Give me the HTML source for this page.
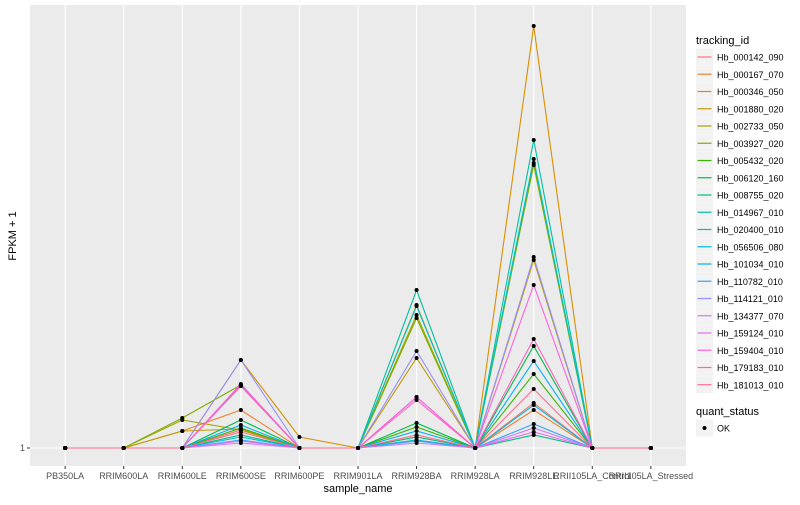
<!DOCTYPE html>
<html><head><meta charset="utf-8"><style>
body{margin:0;background:#fff;font-family:"Liberation Sans",sans-serif}
svg text{font-family:"Liberation Sans",sans-serif}
</style></head><body>
<svg id="chart" width="800" height="500" xmlns="http://www.w3.org/2000/svg"></svg>
<script>
const categories=["PB350LA","RRIM600LA","RRIM600LE","RRIM600SE","RRIM600PE","RRIM901LA","RRIM928BA","RRIM928LA","RRIM928LE","RRII105LA_Control","RRII105LA_Stressed"];
const seriesNames=["Hb_000142_090","Hb_000167_070","Hb_000346_050","Hb_001880_020","Hb_002733_050","Hb_003927_020","Hb_005432_020","Hb_006120_160","Hb_008755_020","Hb_014967_010","Hb_020400_010","Hb_056506_080","Hb_101034_010","Hb_110782_010","Hb_114121_010","Hb_134377_070","Hb_159124_010","Hb_159404_010","Hb_179183_010","Hb_181013_010"];
const s000142=[1,1,1,1.9,1,1,1.55,1,3.25,1,1];
const s000167=[1,1,1.85,2.9,1,1,1.4,1,2.9,1,1];
const s000346=[1,1,1,5.4,1.55,1,8.15,1,22.1,1,1];
const s001880=[1,1,1.85,1.95,1,1,5.5,1,10.4,1,1];
const s002733=[1,1,2.4,1.9,1,1,7.65,1,15.25,1,1];
const s003927=[1,1,2.5,4.15,1,1,7.5,1,15.15,1,1];
const s005432=[1,1,1,2.0,1,1,2.05,1,4.7,1,1];
const s006120=[1,1,1,2.4,1,1,2.25,1,6.1,1,1];
const s008755=[1,1,1,1.65,1,1,1.55,1,1.65,1,1];
const s014967=[1,1,1,4.15,1,1,8.9,1,16.4,1,1];
const s020400=[1,1,1,4.1,1,1,8.1,1,15.45,1,1];
const s056506=[1,1,1,1.55,1,1,1.4,1,3.15,1,1];
const s101034=[1,1,1,2.15,1,1,1.85,1,5.35,1,1];
const s110782=[1,1,1,1.4,1,1,1.35,1,2.2,1,1];
const s114121=[1,1,1,5.4,1,1,5.85,1,10.55,1,1];
const s134377=[1,1,1,1.25,1,1,1.25,1,2.0,1,1];
const s159124=[1,1,1,1.35,1,1,3.55,1,1.8,1,1];
const s159404=[1,1,1,4.2,1,1,3.55,1,9.15,1,1];
const s179183=[1,1,1,4.1,1,1,3.4,1,6.45,1,1];
const s181013=[1,1,1,1.8,1,1,1.65,1,3.95,1,1];
const seriesValues=[s000142,s000167,s000346,s001880,s002733,s003927,s005432,s006120,s008755,s014967,s020400,s056506,s101034,s110782,s114121,s134377,s159124,s159404,s179183,s181013];
const yTicks=[1];
const colors=["#F8766D","#EA8331","#D89000","#C09B00","#A3A500","#7CAE00","#39B600","#00BB4E","#00BF7D","#00C1A3","#00BFC4","#00BAE0","#00B0F6","#35A2FF","#9590FF","#C77CFF","#E76BF3","#FA62DB","#FF62BC","#FF6C91"];

const NS="http://www.w3.org/2000/svg";
const svg=document.getElementById('chart');
const P={l:30,t:5,r:686,b:466};
const step=(P.r-P.l)/(categories.length-1+1.2);
const xScale=i=>P.l+step*(0.6+i);
const yScale=v=>448-(v-1)*20;
function mk(tag,attrs,parent){const e=document.createElementNS(NS,tag);for(const k in attrs)e.setAttribute(k,attrs[k]);(parent||svg).appendChild(e);return e;}

const panel=mk('rect',{x:P.l,y:P.t,width:P.r-P.l,height:P.b-P.t,fill:'#EBEBEB'});


categories.forEach((c,i)=>{
  const g=mk('line',{x1:xScale(i),x2:xScale(i),y1:P.t,y2:P.b,stroke:'#fff','stroke-width':1.1});
  
  
  const tk=mk('line',{x1:xScale(i),x2:xScale(i),y1:P.b,y2:P.b+3,stroke:'#333'});
  
  
  const t=mk('text',{x:xScale(i),y:P.b+13,'font-size':9,fill:'#4D4D4D','text-anchor':'middle'});
  t.textContent=c;
  
  
});
yTicks.forEach(v=>{
  const g=mk('line',{x1:P.l,x2:P.r,y1:yScale(v),y2:yScale(v),stroke:'#fff','stroke-width':1.1});
  
  
  const tk=mk('line',{x1:P.l-3,x2:P.l,y1:yScale(v),y2:yScale(v),stroke:'#333'});
  
  
  const t=mk('text',{x:P.l-5,y:yScale(v)+3,'font-size':9,fill:'#4D4D4D','text-anchor':'end'});
  t.textContent=v;
  
  
});
seriesValues.forEach((vals,si)=>{
  const pts=vals.map((v,i)=>xScale(i)+','+yScale(v)).join(' ');
  const pl=mk('polyline',{points:pts,fill:'none',stroke:colors[si],'stroke-width':1.1});
  
  
});
seriesValues.forEach((vals,si)=>{
  vals.forEach((v,i)=>{
    const c=mk('circle',{cx:xScale(i),cy:yScale(v),r:2,fill:'#000'});
    
    
  });
});
const xt=mk('text',{x:(P.l+P.r)/2,y:492,'font-size':11,fill:'#000','text-anchor':'middle'});
xt.textContent='sample_name';


const yt=mk('text',{x:0,y:0,'font-size':11,fill:'#000','text-anchor':'middle',transform:'translate(16,236) rotate(-90)'});
yt.textContent='FPKM + 1';



const lt=mk('text',{x:696,y:44,'font-size':11,fill:'#000'});
lt.textContent='tracking_id';


seriesNames.forEach((n,i)=>{
  const y=57+i*17.25;
  const g=mk('g',{});
  
  
  mk('rect',{x:696,y:y-8.5,width:17,height:17,fill:'#F2F2F2'},g);
  mk('line',{x1:697.5,x2:711.5,y1:y,y2:y,stroke:colors[i],'stroke-width':1.2},g);
  const t=mk('text',{x:717,y:y+3.5,'font-size':9,fill:'#000'},g);
  t.textContent=n;
});
const qt=mk('text',{x:696,y:415,'font-size':11,fill:'#000'});
qt.textContent='quant_status';


const qg=mk('g',{});


mk('rect',{x:696,y:419.5,width:17,height:17,fill:'#F2F2F2'},qg);
mk('circle',{cx:704.5,cy:428,r:2,fill:'#000'},qg);
const ok=mk('text',{x:717,y:431.5,'font-size':9,fill:'#000'},qg);
ok.textContent='OK';
</script>
</body></html>
